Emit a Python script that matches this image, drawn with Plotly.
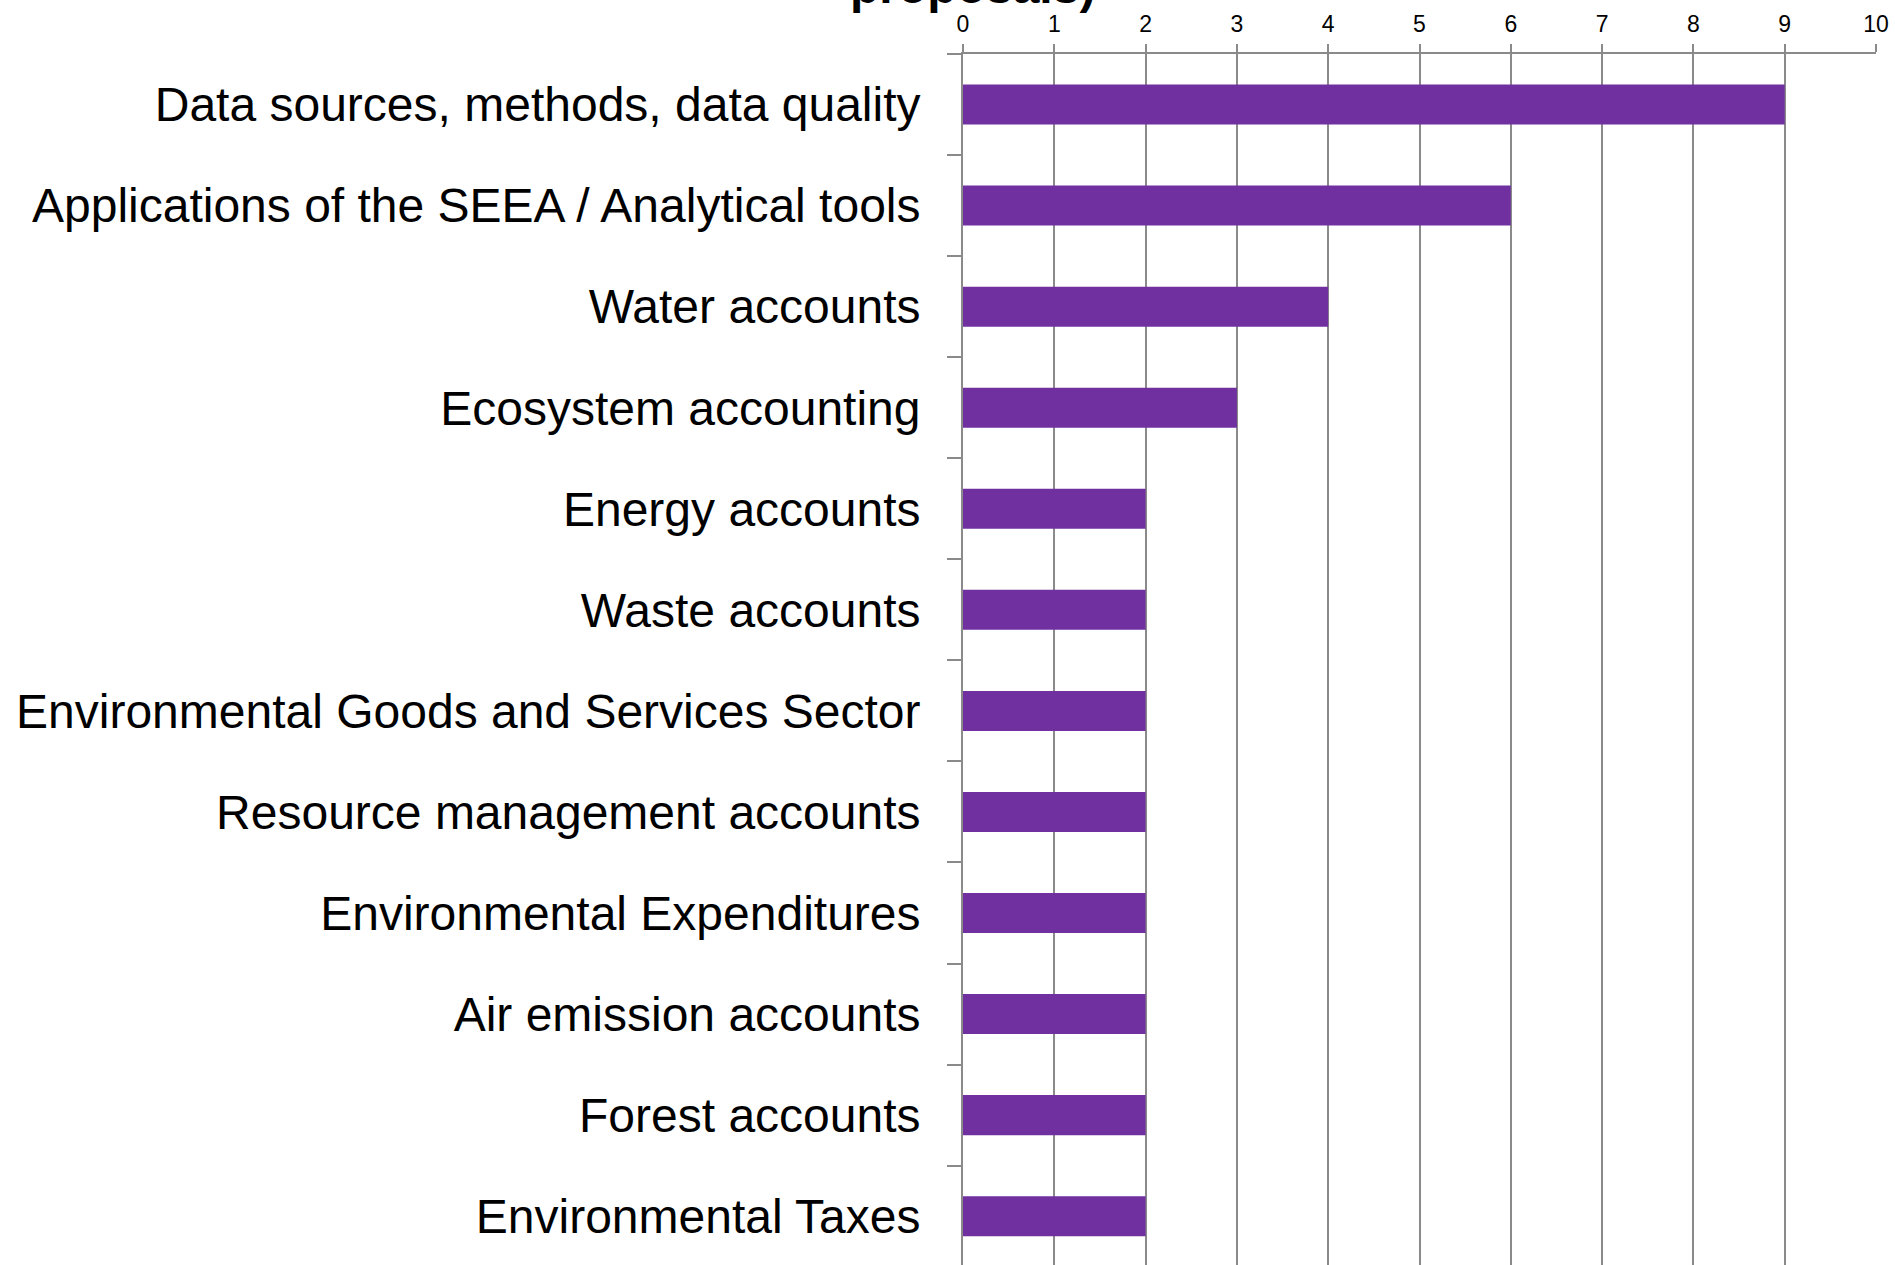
import plotly.graph_objects as go

categories = [
    "Data sources, methods, data quality",
    "Applications of the SEEA / Analytical tools",
    "Water accounts",
    "Ecosystem accounting",
    "Energy accounts",
    "Waste accounts",
    "Environmental Goods and Services Sector",
    "Resource management accounts",
    "Environmental Expenditures",
    "Air emission accounts",
    "Forest accounts",
    "Environmental Taxes",
]
values = [9, 6, 4, 3, 2, 2, 2, 2, 2, 2, 2, 2]
x_ticks = list(range(0, 11))

W, H = 1895, 1265
ML, MR, MT, MB = 963, 19, 54, 0
GRID = "#8a8a8a"
FONT = "Liberation Sans, Arial, sans-serif"

fig = go.Figure(
    go.Bar(
        x=values,
        y=categories,
        orientation="h",
        marker=dict(color="#7030A0", line=dict(width=0)),
        hoverinfo="x+y",
    )
)

plot_h = H - MT - MB
band = 101.06
span = plot_h / band

fig.update_layout(
    template="none",
    width=W,
    height=H,
    margin=dict(l=ML, r=MR, t=MT, b=MB, pad=0),
    paper_bgcolor="white",
    plot_bgcolor="white",
    bargap=0.604,
    showlegend=False,
    font=dict(family=FONT, color="black"),
    xaxis=dict(
        side="top",
        automargin=False,
        range=[0, 10],
        tickvals=x_ticks,
        ticktext=[str(v) for v in x_ticks],
        showgrid=True,
        gridcolor=GRID,
        gridwidth=1.8,
        zeroline=False,
        showline=True,
        linecolor=GRID,
        linewidth=1.8,
        ticks="outside",
        ticklen=8,
        tickcolor=GRID,
        tickwidth=1.8,
        ticklabelstandoff=3,
        tickfont=dict(size=23, family=FONT, color="black"),
    ),
    yaxis=dict(
        type="category",
        automargin=False,
        categoryorder="array",
        categoryarray=categories,
        range=[-0.5 + span, -0.5],
        showgrid=False,
        zeroline=False,
        showline=True,
        linecolor=GRID,
        linewidth=1.8,
        ticks="outside",
        tickson="boundaries",
        ticklen=14,
        tickcolor=GRID,
        tickwidth=1.8,
        ticklabelstandoff=31,
        tickfont=dict(size=48, family=FONT, color="black"),
    ),
    annotations=[
        dict(
            text="<b>proposals)</b>",
            xref="paper",
            yref="paper",
            x=0.0104,
            y=1 + (MT - 15) / plot_h,
            xanchor="center",
            yanchor="bottom",
            showarrow=False,
            font=dict(size=48, family=FONT, color="black"),
        )
    ],
)

fig.write_html(
    "out.html",
    config={"displayModeBar": False},
    post_script="document.body.style.margin='0';document.body.style.padding='0';document.body.style.overflow='hidden';",
)
